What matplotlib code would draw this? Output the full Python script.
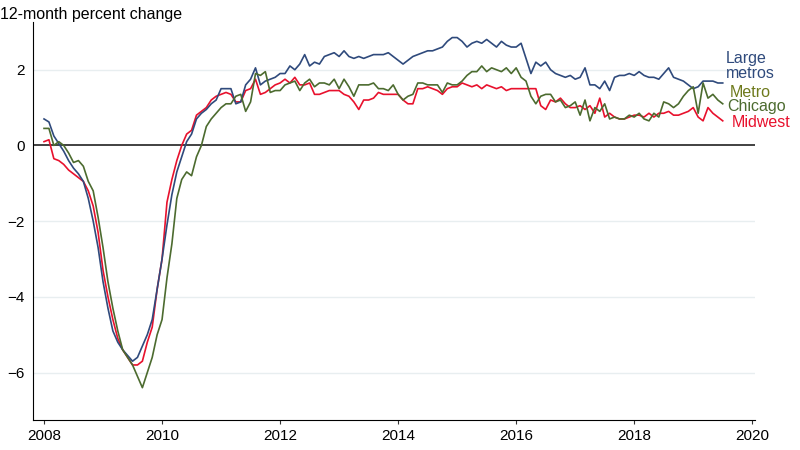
import numpy as np
import matplotlib
matplotlib.use("Agg")
import matplotlib.pyplot as plt

plt.rcParams["font.family"] = "Liberation Sans"

# monthly, Jan 2008 .. Jul 2019
large_metros = [
    0.70, 0.62, 0.25, 0.05, -0.15, -0.4, -0.6, -0.75, -0.95, -1.4, -2.0, -2.7,
    -3.6, -4.3, -4.9, -5.2, -5.4, -5.55, -5.7, -5.6, -5.3, -5.0, -4.6, -3.8,
    -3.0, -2.1, -1.3, -0.7, -0.3, 0.1, 0.3, 0.7, 0.85, 0.95, 1.1, 1.2,
    1.5, 1.5, 1.5, 1.1, 1.15, 1.6, 1.75, 2.05, 1.6, 1.7, 1.75, 1.8,
    1.9, 1.9, 2.1, 2.0, 2.15, 2.4, 2.1, 2.2, 2.15, 2.35, 2.4, 2.45,
    2.35, 2.5, 2.35, 2.3, 2.35, 2.3, 2.35, 2.4, 2.4, 2.4, 2.45, 2.35,
    2.25, 2.15, 2.25, 2.35, 2.4, 2.45, 2.5, 2.5, 2.55, 2.6, 2.75, 2.85,
    2.85, 2.75, 2.6, 2.7, 2.75, 2.7, 2.8, 2.7, 2.6, 2.75, 2.65, 2.6,
    2.6, 2.7, 2.3, 1.9, 2.2, 2.1, 2.2, 2.0, 1.9, 1.85, 1.8, 1.85,
    1.75, 1.8, 2.05, 1.6, 1.6, 1.5, 1.7, 1.45, 1.8, 1.85, 1.85, 1.9,
    1.85, 1.95, 1.85, 1.8, 1.8, 1.75, 1.9, 2.05, 1.8, 1.75, 1.7, 1.6,
    1.5, 1.55, 1.7, 1.7, 1.7, 1.65, 1.65,
]
midwest = [
    0.1, 0.15, -0.35, -0.4, -0.5, -0.65, -0.75, -0.85, -0.95, -1.2, -1.6, -2.3,
    -3.3, -4.0, -4.6, -5.1, -5.4, -5.6, -5.8, -5.8, -5.7, -5.2, -4.8, -3.8,
    -3.0, -1.5, -0.9, -0.4, 0.0, 0.3, 0.4, 0.8, 0.9, 1.0, 1.2, 1.3,
    1.35, 1.4, 1.35, 1.15, 1.15, 1.45, 1.5, 1.75, 1.35, 1.4, 1.5, 1.6,
    1.65, 1.75, 1.65, 1.8, 1.6, 1.6, 1.65, 1.35, 1.35, 1.4, 1.45, 1.45,
    1.45, 1.35, 1.3, 1.15, 0.95, 1.2, 1.2, 1.25, 1.4, 1.35, 1.35, 1.35,
    1.35, 1.2, 1.1, 1.1, 1.5, 1.5, 1.55, 1.5, 1.45, 1.35, 1.5, 1.55,
    1.55, 1.65, 1.6, 1.55, 1.6, 1.5, 1.6, 1.55, 1.5, 1.55, 1.45, 1.5,
    1.5, 1.5, 1.5, 1.5, 1.5, 1.05, 0.95, 1.2, 1.15, 1.25, 1.1, 1.0,
    1.0, 1.05, 0.95, 1.05, 0.85, 1.25, 0.75, 0.85, 0.75, 0.7, 0.7, 0.75,
    0.8, 0.8, 0.75, 0.85, 0.75, 0.85, 0.85, 0.9, 0.8, 0.8, 0.85, 0.9,
    1.0, 0.75, 0.65, 1.0, 0.85, 0.75, 0.65,
]
chicago = [
    0.45, 0.45, 0.0, 0.1, 0.0, -0.2, -0.45, -0.4, -0.55, -0.95, -1.2, -1.9,
    -2.7, -3.6, -4.3, -4.9, -5.4, -5.6, -5.8, -6.1, -6.4, -6.0, -5.6, -5.0,
    -4.6, -3.5, -2.6, -1.4, -0.9, -0.7, -0.8, -0.3, 0.0, 0.5, 0.7, 0.85,
    1.0, 1.1, 1.1, 1.3, 1.35, 0.9, 1.15, 1.9, 1.85, 1.95, 1.4, 1.45,
    1.45, 1.6, 1.65, 1.7, 1.45, 1.65, 1.75, 1.55, 1.65, 1.65, 1.6, 1.75,
    1.5, 1.75, 1.55, 1.3, 1.6, 1.6, 1.6, 1.65, 1.5, 1.5, 1.45, 1.6,
    1.35, 1.2, 1.3, 1.35, 1.65, 1.65, 1.6, 1.6, 1.6, 1.4, 1.65, 1.6,
    1.6, 1.7, 1.85, 1.95, 1.95, 2.1, 1.95, 2.05, 2.0, 1.95, 2.05, 1.9,
    2.05, 1.8, 1.7, 1.3, 1.1, 1.3, 1.35, 1.35, 1.15, 1.2, 1.0, 1.05,
    1.15, 0.8, 1.2, 0.65, 1.0, 0.9, 1.1, 0.7, 0.75, 0.7, 0.7, 0.8,
    0.75, 0.85, 0.7, 0.65, 0.85, 0.75, 1.15, 1.1, 1.0, 1.1, 1.3, 1.45,
    1.55, 0.85, 1.65, 1.25, 1.35, 1.2, 1.1,
]
x = 2008 + np.arange(len(large_metros)) / 12
yticks = [-6, -4, -2, 0, 2]
xticks = [2008, 2010, 2012, 2014, 2016, 2018, 2020]

BLUE = "#2F4A7C"; RED = "#E8112D"; GREEN = "#4C6B2F"; OLIVE = "#6E7A1C"

fig = plt.figure(figsize=(8, 4.5), dpi=100)
ax = fig.add_axes([0.041, 0.067, 0.903, 0.884])
for yv in yticks:
    if yv != 0:
        ax.axhline(yv, color="#E8EEF0", lw=1, zorder=0)
ax.axhline(0, color="#333333", lw=1.3, zorder=1)
ax.plot(x, large_metros, color=BLUE, lw=1.2, zorder=3)
ax.plot(x, chicago, color=GREEN, lw=1.2, zorder=4)
ax.plot(x, midwest, color=RED, lw=1.2, zorder=2)

ax.text(2019.55, 2.1, "Large\nmetros", color=BLUE, fontsize=11.5, ha="left",
        va="center", linespacing=0.95)
ax.text(2019.62, 1.4, "Metro", color=OLIVE, fontsize=11.5, ha="left", va="center")
ax.text(2019.58, 1.02, "Chicago", color=GREEN, fontsize=11.5, ha="left", va="center")
ax.text(2019.65, 0.6, "Midwest", color=RED, fontsize=11.5, ha="left", va="center")

ax.set_xlim(2007.81, 2020.05)
ax.set_ylim(-7.25, 3.26)
ax.set_yticks(yticks)
ax.set_xticks(xticks)
ax.tick_params(labelsize=11, length=3, color="#333333")
ax.tick_params(axis="y", length=0, pad=6)
ax.spines[["top", "right"]].set_visible(False)
fig.text(0.0, 0.985, "12-month percent change", fontsize=11.5, ha="left", va="top")
fig.savefig("out.png", dpi=100)
